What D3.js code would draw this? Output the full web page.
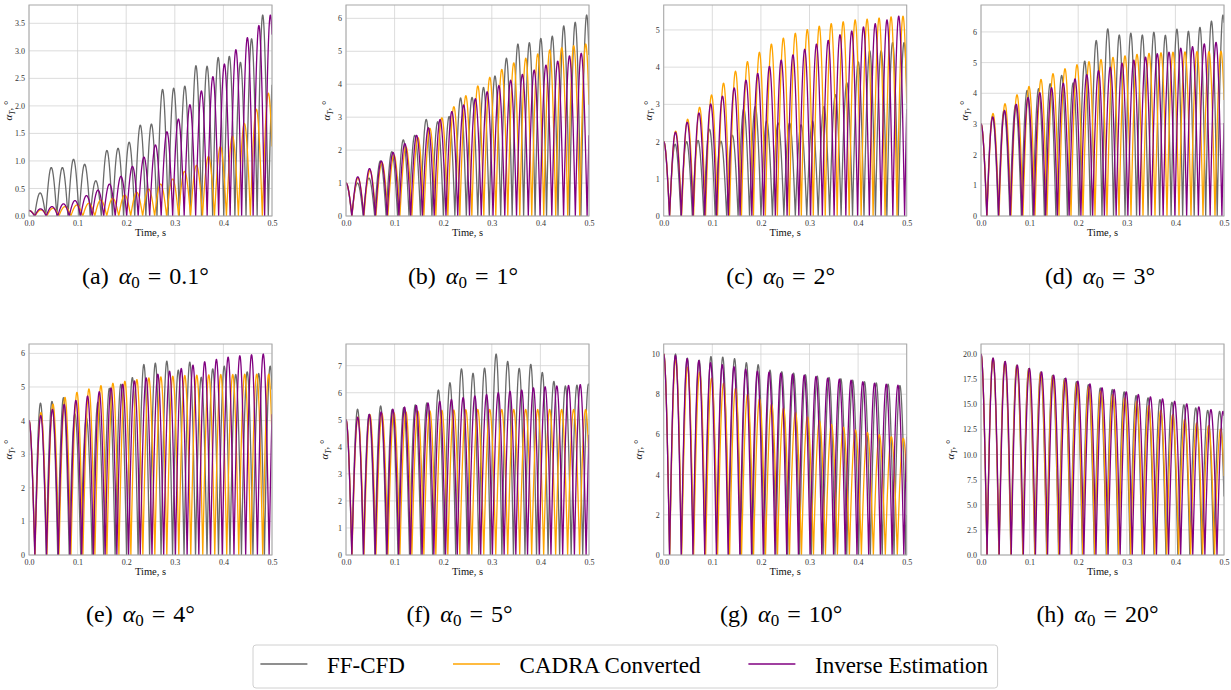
<!DOCTYPE html>
<html>
<head>
<meta charset="utf-8">
<script src="https://cdn.jsdelivr.net/npm/d3@7"></script>
<style>
  body { margin: 0; background: #fff; }
  svg { display: block; font-family: "Liberation Serif", "DejaVu Serif", serif; }
  svg text { font-family: "Liberation Serif", "DejaVu Serif", serif; }
</style>
</head>
<body>
<svg id="fig" width="1231" height="690"></svg>
<script>
// ---- Data -------------------------------------------------------------
// Initial angle of attack for each run, degrees
const alpha0 = [0.1, 1, 2, 3, 4, 5, 10, 20];
const panelLetters = ["a", "b", "c", "d", "e", "f", "g", "h"];
const seriesNames = ["FF-CFD", "CADRA Converted", "Inverse Estimation"];
const timeTicks = [0, 0.1, 0.2, 0.3, 0.4, 0.5];

// Half-period of |alpha_T| oscillation (time between successive peaks), s
const ffcfdPeriod   = [0.0229, 0.02358, 0.02355, 0.02371, 0.02363, 0.02376, 0.0243, 0.02455];
const cadraPeriod   = [0.02462, 0.02466, 0.02462, 0.02469, 0.02466, 0.02465, 0.02465, 0.02465];
const inversePeriod = [0.02365, 0.0242, 0.02418, 0.02418, 0.0241, 0.0241, 0.0241, 0.0249];

// Peak |alpha_T| of each successive lobe, degrees (lobe 0 starts at alpha0)
const ffcfd_a   = [0.42, 0.88, 0.88, 1.03, 0.94, 0.64, 1.19, 1.23, 1.34, 1.65, 1.67, 2.30, 2.32, 2.36, 2.73, 2.72, 2.88, 2.90, 2.79, 3.22, 3.65, 2.75];
const cadra_a   = [0.11, 0.14, 0.17, 0.20, 0.23, 0.29, 0.32, 0.38, 0.43, 0.49, 0.58, 0.67, 0.81, 0.92, 1.08, 1.26, 1.45, 1.68, 1.94, 2.23];
const inverse_a = [0.13, 0.17, 0.22, 0.28, 0.37, 0.47, 0.58, 0.72, 0.90, 1.07, 1.29, 1.53, 1.76, 2.02, 2.27, 2.53, 2.76, 3.02, 3.24, 3.46, 3.65];

const ffcfd_b   = [1.00, 1.15, 1.67, 1.95, 2.31, 2.45, 2.93, 2.86, 3.02, 3.58, 3.60, 3.90, 4.25, 4.79, 5.22, 5.26, 5.39, 5.46, 5.77, 5.88, 6.10];
const cadra_b   = [1.15, 1.38, 1.62, 1.85, 2.10, 2.38, 2.66, 2.98, 3.32, 3.65, 3.95, 4.21, 4.45, 4.65, 4.79, 4.92, 5.04, 5.11, 5.17, 5.22];
const inverse_b = [1.19, 1.44, 1.67, 1.93, 2.20, 2.45, 2.68, 2.93, 3.17, 3.37, 3.56, 3.77, 3.96, 4.12, 4.30, 4.43, 4.58, 4.70, 4.86, 4.94, 5.05];

const ffcfd_c   = [1.93, 2.00, 2.03, 2.33, 2.01, 2.17, 2.88, 2.94, 2.55, 2.50, 2.50, 2.45, 2.55, 2.94, 3.26, 3.58, 4.14, 4.44, 4.44, 4.66, 4.66];
const cadra_c   = [2.28, 2.60, 2.92, 3.25, 3.57, 3.89, 4.15, 4.40, 4.62, 4.78, 4.91, 5.01, 5.10, 5.17, 5.22, 5.27, 5.29, 5.32, 5.35, 5.37];
const inverse_c = [2.25, 2.52, 2.77, 3.01, 3.22, 3.44, 3.65, 3.83, 4.02, 4.19, 4.33, 4.48, 4.62, 4.72, 4.87, 4.97, 5.08, 5.17, 5.27, 5.37, 5.40];

const ffcfd_d   = [3.25, 3.45, 3.62, 4.09, 4.15, 4.31, 4.58, 4.34, 5.05, 5.72, 6.10, 5.90, 5.96, 5.90, 5.99, 5.89, 6.09, 6.02, 6.15, 6.35, 6.55];
const cadra_d   = [3.34, 3.66, 3.95, 4.22, 4.45, 4.64, 4.80, 4.93, 5.03, 5.10, 5.17, 5.22, 5.27, 5.30, 5.32, 5.34, 5.35, 5.36, 5.36, 5.37];
const inverse_d = [3.23, 3.44, 3.64, 3.86, 4.02, 4.18, 4.33, 4.47, 4.61, 4.74, 4.85, 4.98, 5.08, 5.18, 5.29, 5.34, 5.47, 5.52, 5.61, 5.66, 5.70];

const ffcfd_e   = [4.52, 4.57, 4.68, 4.20, 4.08, 4.55, 4.96, 5.08, 5.28, 5.67, 5.71, 5.77, 5.50, 5.74, 5.29, 5.54, 5.62, 5.37, 5.45, 5.40, 5.62];
const cadra_e   = [4.24, 4.49, 4.69, 4.84, 4.94, 5.04, 5.11, 5.17, 5.22, 5.27, 5.30, 5.32, 5.34, 5.35, 5.36, 5.37, 5.37, 5.38, 5.38, 5.38];
const inverse_e = [4.15, 4.33, 4.48, 4.60, 4.73, 4.86, 4.97, 5.08, 5.18, 5.27, 5.38, 5.47, 5.55, 5.65, 5.75, 5.82, 5.89, 5.93, 5.96, 5.98, 5.98];

const ffcfd_f   = [5.39, 5.20, 5.51, 5.38, 5.45, 5.55, 5.62, 6.10, 6.37, 6.88, 6.72, 6.91, 7.43, 7.16, 6.90, 7.05, 6.75, 6.42, 6.25, 6.28, 6.32];
const cadra_f   = [5.10, 5.19, 5.23, 5.26, 5.29, 5.32, 5.33, 5.35, 5.36, 5.37, 5.38, 5.38, 5.38, 5.38, 5.38, 5.38, 5.38, 5.38, 5.38, 5.38];
const inverse_f = [5.10, 5.20, 5.29, 5.39, 5.47, 5.53, 5.62, 5.68, 5.75, 5.82, 5.88, 5.93, 6.00, 6.05, 6.10, 6.18, 6.22, 6.25, 6.27, 6.30, 6.35];

const ffcfd_g   = [10.0, 9.80, 9.70, 9.88, 9.85, 9.77, 9.57, 9.47, 9.20, 9.12, 9.05, 8.97, 8.90, 8.83, 8.77, 8.70, 8.62, 8.56, 8.50, 8.43, 8.40];
const cadra_g   = [9.72, 9.35, 9.10, 8.80, 8.55, 8.30, 8.00, 7.77, 7.50, 7.30, 7.09, 6.87, 6.67, 6.50, 6.36, 6.22, 6.10, 5.99, 5.89, 5.81];
const inverse_g = [9.93, 9.77, 9.67, 9.57, 9.47, 9.37, 9.25, 9.15, 9.10, 9.05, 9.00, 8.95, 8.88, 8.80, 8.75, 8.70, 8.62, 8.55, 8.50, 8.45, 8.40];

const ffcfd_h   = [19.60, 19.25, 18.90, 18.55, 18.20, 17.88, 17.55, 17.25, 16.95, 16.62, 16.47, 16.24, 15.87, 15.64, 15.47, 15.20, 14.94, 14.64, 14.40, 14.30];
const cadra_h   = [19.55, 19.20, 18.85, 18.50, 18.15, 17.80, 17.45, 17.10, 16.75, 16.30, 15.97, 15.64, 15.30, 14.87, 14.40, 13.97, 13.47, 13.14, 12.87, 12.54];
const inverse_h = [19.60, 19.27, 18.90, 18.57, 18.23, 17.90, 17.60, 17.30, 17.03, 16.64, 16.47, 16.24, 15.97, 15.74, 15.54, 15.30, 15.04, 14.74, 14.47, 14.30];

// y tick labels of each panel
const yTicks_a = [0, 0.5, 1.0, 1.5, 2.0, 2.5, 3.0, 3.5];
const yTicks_b = [0, 1, 2, 3, 4, 5, 6];
const yTicks_c = [0, 1, 2, 3, 4, 5];
const yTicks_d = [0, 1, 2, 3, 4, 5, 6];
const yTicks_e = [0, 1, 2, 3, 4, 5, 6];
const yTicks_f = [0, 1, 2, 3, 4, 5, 6, 7];
const yTicks_g = [0, 2, 4, 6, 8, 10];
const yTicks_h = [0, 2.5, 5.0, 7.5, 10.0, 12.5, 15.0, 17.5, 20.0];
const yTickFormat = [".1f", "d", "d", "d", "d", "d", "d", ".1f"];

// ---- Styling / layout ---------------------------------------------------
const SERIF = '"Liberation Serif", "DejaVu Serif", serif';
const colors = ["#6a6a6a", "#ffa500", "#800080"];
const colLeft = [29, 346, 663.7, 981];
const rowTop = [5, 344];
const plotW = 243, plotH = 211;
const yLabelGap = [17, 16, 12, 13, 17, 18, 22, 27];
const captionRowBase = [284, 622];
const captionShift = [-5, -4.5, -4.5, -2.5, -10, -8, -4, -5];

const ffcfd = [ffcfd_a, ffcfd_b, ffcfd_c, ffcfd_d, ffcfd_e, ffcfd_f, ffcfd_g, ffcfd_h];
const cadra = [cadra_a, cadra_b, cadra_c, cadra_d, cadra_e, cadra_f, cadra_g, cadra_h];
const inverse = [inverse_a, inverse_b, inverse_c, inverse_d, inverse_e, inverse_f, inverse_g, inverse_h];
const yTicks = [yTicks_a, yTicks_b, yTicks_c, yTicks_d, yTicks_e, yTicks_f, yTicks_g, yTicks_h];

// Each lobe of the rectified response is drawn as a half cosine between its
// two zero crossings, scaled to the lobe's peak.
function lobeSeries(start, peaks, period, tEnd) {
  const amps = [start, ...peaks];
  const pts = [];
  const n = 48;
  const kMax = Math.ceil(tEnd / period);
  for (let k = 0; k <= kMax; k++) {
    const a = amps[Math.min(k, amps.length - 1)];
    const t0 = Math.max(0, (k - 0.5) * period);
    const t1 = Math.min(tEnd, (k + 0.5) * period);
    if (t1 <= t0) continue;
    for (let i = 0; i <= n; i++) {
      const t = t0 + (t1 - t0) * i / n;
      pts.push([t, a * Math.abs(Math.cos(Math.PI * t / period))]);
    }
  }
  return pts;
}

const svg = d3.select("#fig");
const defs = svg.append("defs");

panelLetters.forEach((letter, i) => {
  const col = i % 4, row = Math.floor(i / 4);
  const x0 = colLeft[col], y0 = rowTop[row];
  const g = svg.append("g").attr("transform", `translate(${x0},${y0})`);

  const allPeaks = [alpha0[i], ...ffcfd[i], ...cadra[i], ...inverse[i]];
  const yMax = d3.max(allPeaks) * 1.05;

  const x = d3.scaleLinear().domain([0, 0.5]).range([0, plotW]);
  const y = d3.scaleLinear().domain([0, yMax]).range([plotH, 0]);

  // grid
  g.append("g").selectAll("line").data(timeTicks).join("line")
    .attr("x1", d => x(d)).attr("x2", d => x(d))
    .attr("y1", 0).attr("y2", plotH)
    .attr("stroke", "#d3d3d3").attr("stroke-width", 0.8);
  g.append("g").selectAll("line").data(yTicks[i]).join("line")
    .attr("x1", 0).attr("x2", plotW)
    .attr("y1", d => y(d)).attr("y2", d => y(d))
    .attr("stroke", "#d3d3d3").attr("stroke-width", 0.8);

  // axes (labels only, no tick marks)
  const xAxis = d3.axisBottom(x).tickValues(timeTicks).tickFormat(d3.format(".1f")).tickSize(0).tickPadding(4);
  const yAxis = d3.axisLeft(y).tickValues(yTicks[i]).tickFormat(d3.format(yTickFormat[i])).tickSize(0).tickPadding(4);
  const gx = g.append("g").attr("transform", `translate(0,${plotH})`).call(xAxis);
  const gy = g.append("g").call(yAxis);
  [gx, gy].forEach(a => {
    a.attr("font-family", null).style("font-family", SERIF);
    a.select(".domain").remove();
    a.selectAll("text").style("font-family", SERIF).attr("font-size", 8).attr("fill", "#333");
  });

  // series
  const clipId = "clip-" + letter;
  defs.append("clipPath").attr("id", clipId)
    .append("rect").attr("x", 0).attr("y", 0).attr("width", plotW).attr("height", plotH);
  const line = d3.line().x(d => x(d[0])).y(d => y(d[1]));
  const seriesData = [
    lobeSeries(alpha0[i], ffcfd[i], ffcfdPeriod[i], 0.5),
    lobeSeries(alpha0[i], cadra[i], cadraPeriod[i], 0.5),
    lobeSeries(alpha0[i], inverse[i], inversePeriod[i], 0.5)
  ];
  g.append("g").attr("clip-path", `url(#${clipId})`)
    .selectAll("path").data(seriesData).join("path")
    .attr("d", line)
    .attr("fill", "none")
    .attr("stroke", (d, j) => colors[j])
    .attr("stroke-width", 1.3)
    .attr("stroke-linejoin", "round");

  // frame
  g.append("rect").attr("x", 0).attr("y", 0).attr("width", plotW).attr("height", plotH)
    .attr("fill", "none").attr("stroke", "#a8a8a8").attr("stroke-width", 1);

  // axis titles
  g.append("text").attr("x", plotW / 2).attr("y", plotH + 20)
    .attr("text-anchor", "middle").attr("font-size", 10.5).attr("fill", "#111")
    .text("Time, s");
  const yl = g.append("text")
    .attr("transform", `translate(${-yLabelGap[i]},${plotH / 2}) rotate(-90)`)
    .attr("text-anchor", "middle").attr("font-size", 11).attr("fill", "#111");
  yl.append("tspan").attr("font-style", "italic").text("α");
  yl.append("tspan").attr("font-style", "italic").attr("font-size", 7.5).attr("dy", 2.5).text("T");
  yl.append("tspan").attr("dy", -2.5).text(", °");

  // caption
  const cap = svg.append("text")
    .attr("x", x0 + plotW / 2 + captionShift[i]).attr("y", captionRowBase[row])
    .attr("text-anchor", "middle").attr("font-size", 24).attr("fill", "#000");
  cap.append("tspan").text(`(${letter})`);
  cap.append("tspan").attr("dx", 10).attr("font-style", "italic").text("α");
  cap.append("tspan").attr("font-size", 17).attr("dy", 4).text("0");
  cap.append("tspan").attr("dx", 8).attr("dy", -4).text("=");
  cap.append("tspan").attr("dx", 8).text(`${alpha0[i]}°`);
});

// ---- Legend -------------------------------------------------------------
const legend = svg.append("g");
const box = legend.append("rect")
  .attr("y", 645).attr("height", 43).attr("rx", 3)
  .attr("fill", "#fff").attr("stroke", "#d0d0d0").attr("stroke-width", 1);
let lx = 260.4;
const legendLeft = 253;
seriesNames.forEach((name, j) => {
  legend.append("line").attr("x1", lx).attr("x2", lx + 47).attr("y1", 664).attr("y2", 664)
    .attr("stroke", colors[j]).attr("stroke-width", 1.6);
  const t = legend.append("text").attr("x", lx + 66.6).attr("y", 672.5)
    .attr("font-size", 23).attr("fill", "#000").text(name);
  const w = t.node().getComputedTextLength();
  lx = lx + 66.6 + w + 48;
});
box.attr("x", legendLeft).attr("width", (lx - 48 + 9.5) - legendLeft);
</script>
</body>
</html>
